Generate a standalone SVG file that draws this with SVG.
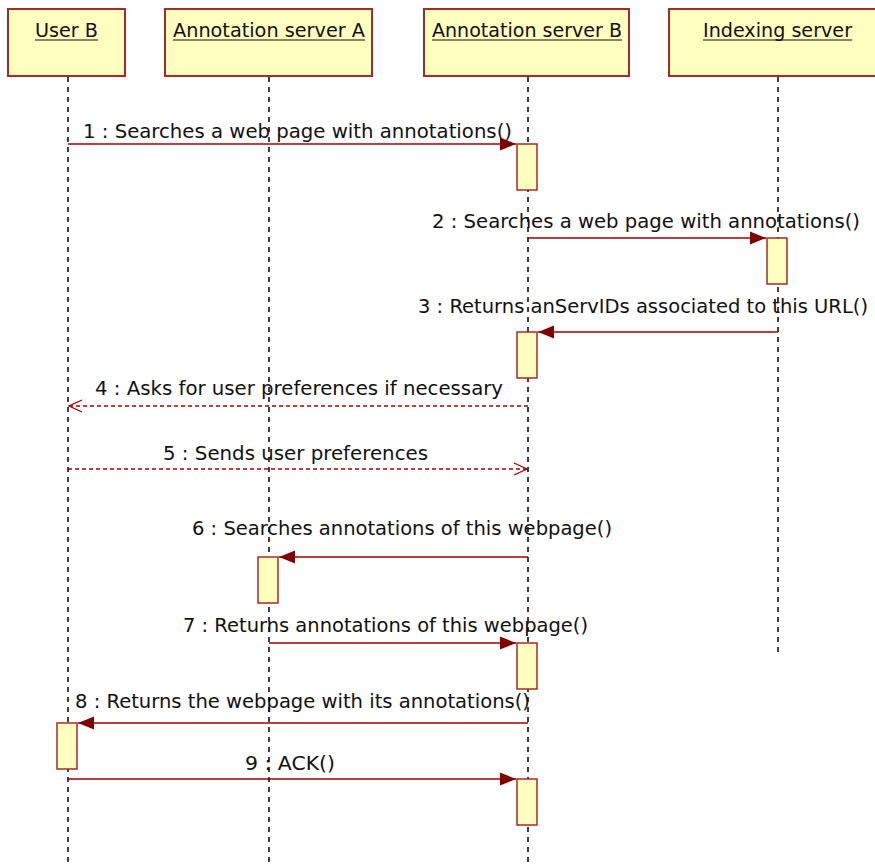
<svg xmlns="http://www.w3.org/2000/svg" width="875" height="864" viewBox="0 0 875 864">
<defs>
<style>
.obj{fill:#ffffc0;stroke:#a52a2a;stroke-width:2}
.act{fill:#ffffc0;stroke:#a52a2a;stroke-width:1.5}
.life{stroke:#000;stroke-width:1.5;stroke-dasharray:5 5;fill:none}
.msg{stroke:#a00000;stroke-width:1.5;fill:none}
.ret{stroke:#a00000;stroke-width:1.3;fill:none;stroke-dasharray:4 3}
.t{font-family:"DejaVu Sans","Liberation Sans",sans-serif;font-size:19px;fill:#111}
.ul{stroke:#111;stroke-width:1.2}
</style>
<marker id="fill" markerWidth="18" markerHeight="16" refX="17" refY="8" orient="auto" markerUnits="userSpaceOnUse">
<path d="M1,1.5 L17,8 L1,14.5 Z" fill="#800000"/>
</marker>
<marker id="open" markerWidth="16" markerHeight="14" refX="15" refY="7" orient="auto" markerUnits="userSpaceOnUse">
<path d="M2,1 L15,7 L2,13" fill="none" stroke="#a00000" stroke-width="1.3"/>
</marker>
</defs>
<rect width="875" height="864" fill="#fff"/>

<g id="userB">
<rect class="obj" x="8" y="9" width="117" height="67"/>
<text class="t" x="35" y="37" textLength="63" lengthAdjust="spacingAndGlyphs">User B</text>
<line class="ul" x1="35" y1="40" x2="98" y2="40"/>
<line class="life" x1="68" y1="77" x2="68" y2="862"/>
</g>
<g id="serverA">
<rect class="obj" x="165" y="9" width="207" height="67"/>
<text class="t" x="173" y="37" textLength="192" lengthAdjust="spacingAndGlyphs">Annotation server A</text>
<line class="ul" x1="173" y1="40" x2="365" y2="40"/>
<line class="life" x1="269" y1="77" x2="269" y2="862"/>
</g>
<g id="serverB">
<rect class="obj" x="424" y="9" width="205" height="67"/>
<text class="t" x="432" y="37" textLength="190" lengthAdjust="spacingAndGlyphs">Annotation server B</text>
<line class="ul" x1="432" y1="40" x2="622" y2="40"/>
<line class="life" x1="528" y1="77" x2="528" y2="862"/>
</g>
<g id="indexing">
<rect class="obj" x="669" y="9" width="215" height="67"/>
<text class="t" x="703" y="37" textLength="149" lengthAdjust="spacingAndGlyphs">Indexing server</text>
<line class="ul" x1="703" y1="40" x2="852" y2="40"/>
<line class="life" x1="778" y1="77" x2="778" y2="656"/>
</g>

<g id="activations">
<rect class="act" x="517" y="144" width="20" height="46"/>
<rect class="act" x="767" y="238" width="20" height="46"/>
<rect class="act" x="517" y="332" width="20" height="46"/>
<rect class="act" x="258" y="557" width="20" height="46"/>
<rect class="act" x="517" y="643" width="20" height="46"/>
<rect class="act" x="57" y="723" width="20" height="46"/>
<rect class="act" x="517" y="779" width="20" height="46"/>
</g>

<g id="connectors">
<line class="msg" x1="68" y1="144" x2="516" y2="144" marker-end="url(#fill)"/>
<line class="msg" x1="528" y1="238" x2="766" y2="238" marker-end="url(#fill)"/>
<line class="msg" x1="778" y1="332" x2="538" y2="332" marker-end="url(#fill)"/>
<line class="ret" x1="528" y1="406" x2="69" y2="406" marker-end="url(#open)"/>
<line class="ret" x1="68" y1="469" x2="527" y2="469" marker-end="url(#open)"/>
<line class="msg" x1="528" y1="557" x2="279" y2="557" marker-end="url(#fill)"/>
<line class="msg" x1="269" y1="643" x2="516" y2="643" marker-end="url(#fill)"/>
<line class="msg" x1="528" y1="723" x2="78" y2="723" marker-end="url(#fill)"/>
<line class="msg" x1="68" y1="779" x2="516" y2="779" marker-end="url(#fill)"/>
</g>

<g id="labels">
<text class="t" x="83" y="138" textLength="429" lengthAdjust="spacingAndGlyphs">1 : Searches a web page with annotations()</text>
<text class="t" x="432" y="228" textLength="428" lengthAdjust="spacingAndGlyphs">2 : Searches a web page with annotations()</text>
<text class="t" x="418" y="313" textLength="450" lengthAdjust="spacingAndGlyphs">3 : Returns anServIDs associated to this URL()</text>
<text class="t" x="95" y="395" textLength="408" lengthAdjust="spacingAndGlyphs">4 : Asks for user preferences if necessary</text>
<text class="t" x="163" y="460" textLength="265" lengthAdjust="spacingAndGlyphs">5 : Sends user preferences</text>
<text class="t" x="192" y="535" textLength="420" lengthAdjust="spacingAndGlyphs">6 : Searches annotations of this webpage()</text>
<text class="t" x="183" y="632" textLength="405" lengthAdjust="spacingAndGlyphs">7 : Returns annotations of this webpage()</text>
<text class="t" x="75" y="708" textLength="455" lengthAdjust="spacingAndGlyphs">8 : Returns the webpage with its annotations()</text>
<text class="t" x="245" y="770" textLength="90" lengthAdjust="spacingAndGlyphs">9 : ACK()</text>
</g>
</svg>
